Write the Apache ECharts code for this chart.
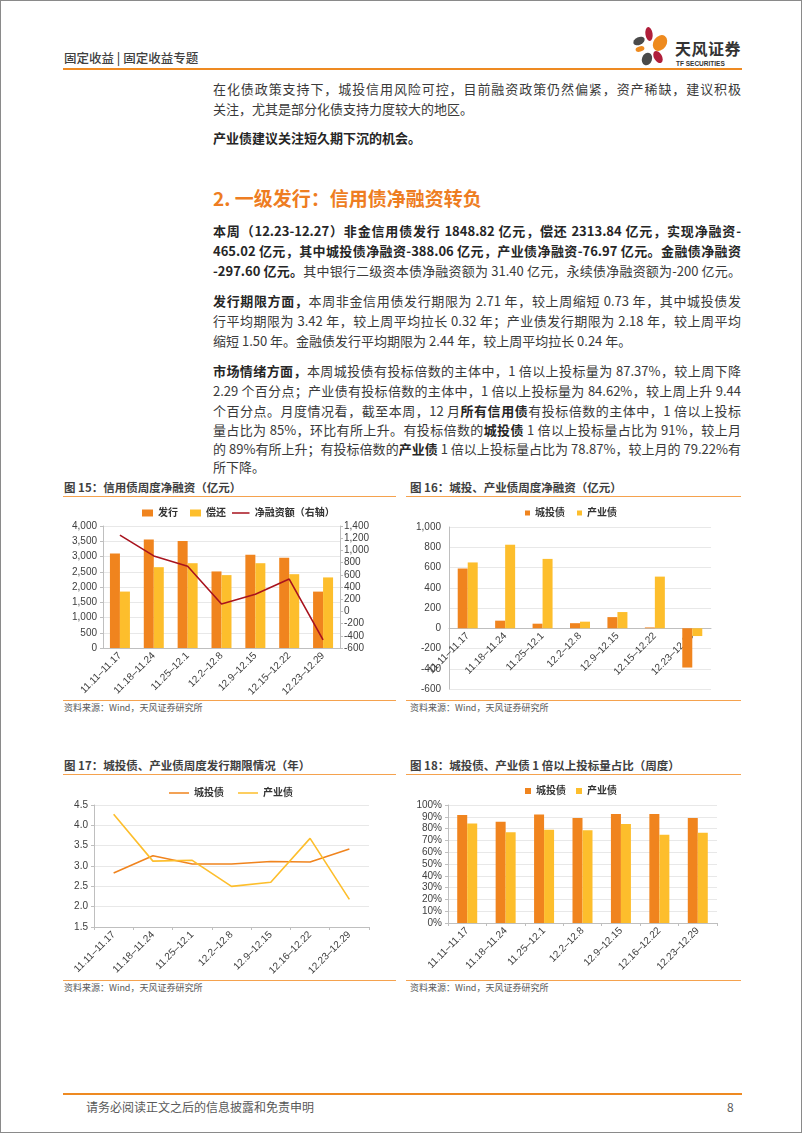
<!DOCTYPE html>
<html><head><meta charset="utf-8">
<script src="https://cdn.jsdelivr.net/npm/echarts@6/dist/echarts.min.js"></script>
<style>
html,body{margin:0;padding:0;background:#fff;}
#page{position:relative;width:802px;height:1133px;box-sizing:border-box;border:1px solid #8a8a8a;overflow:hidden;font-family:"Noto Sans CJK SC","Liberation Sans",sans-serif;color:#333;}
.abs{position:absolute;}
.ln{position:absolute;left:212px;width:528px;height:20px;line-height:20px;font-size:13px;white-space:nowrap;text-align:justify;text-align-last:justify;color:#3a3a3a;}
.ln.last{text-align-last:left;}
.ln b{font-weight:bold;color:#262626;}
.ttl{position:absolute;font-size:11.5px;font-weight:bold;color:#404040;line-height:16px;white-space:nowrap;}
.src{position:absolute;font-size:9px;color:#595959;line-height:12px;white-space:nowrap;}
.hr{position:absolute;height:0;border-top:1.5px solid #F5A24E;}
.chart{position:absolute;}
</style></head>
<body>
<div id="page">
  <!-- header -->
  <div class="abs" style="left:63px;top:49px;font-size:12.5px;color:#404040;line-height:16px;font-weight:500;">固定收益 | 固定收益专题</div>
  <div class="abs" style="left:62px;top:67px;width:679px;height:0;border-top:2px solid #EE8A22;"></div>
  <svg class="abs" style="left:628px;top:24px;" width="46" height="44" viewBox="0 0 46 44">
    <ellipse cx="20" cy="9" rx="3.6" ry="7" fill="#B01E3A" transform="rotate(-8 20 9)"/>
    <ellipse cx="31" cy="18" rx="6.5" ry="8.5" fill="#EE8A1E" transform="rotate(35 31 18)"/>
    <ellipse cx="10" cy="16" rx="6" ry="3.8" fill="#4a4a4a" transform="rotate(-25 10 16)"/>
    <ellipse cx="11" cy="24" rx="4.5" ry="2.6" fill="#EE8A1E" transform="rotate(-15 11 24)"/>
    <ellipse cx="29" cy="32" rx="4" ry="6.5" fill="#B01E3A" transform="rotate(-30 29 32)"/>
    <ellipse cx="18" cy="34" rx="5" ry="6.5" fill="#4a4a4a" transform="rotate(20 18 34)"/>
  </svg>
  <div class="abs" style="left:674px;top:37px;font-size:16px;font-weight:bold;color:#333;line-height:20px;letter-spacing:0.5px;">天风证券</div>
  <div class="abs" style="left:675px;top:59px;font-size:6.5px;font-weight:bold;color:#333;line-height:8px;font-family:'Liberation Sans',sans-serif;">TF SECURITIES</div>

  <!-- intro -->
  <div class="ln" style="top:78px;">在化债政策支持下，城投信用风险可控，目前融资政策仍然偏紧，资产稀缺，建议积极</div>
  <div class="ln last" style="top:98px;">关注，尤其是部分化债支持力度较大的地区。</div>
  <div class="ln last" style="top:127px;"><b>产业债建议关注短久期下沉的机会。</b></div>

  <div class="abs" style="left:212px;top:183px;font-size:19px;font-weight:bold;color:#EE7D22;line-height:28px;">2. 一级发行：信用债净融资转负</div>

  <div class="ln" style="top:220px;"><b>本周（12.23-12.27）非金信用债发行 1848.82 亿元，偿还 2313.84 亿元，实现净融资-</b></div>
  <div class="ln" style="top:240px;"><b>465.02 亿元，其中城投债净融资-388.06 亿元，产业债净融资-76.97 亿元。金融债净融资</b></div>
  <div class="ln" style="top:260px;"><b>-297.60 亿元。</b>其中银行二级资本债净融资额为 31.40 亿元，永续债净融资额为-200 亿元。</div>

  <div class="ln" style="top:290px;"><b>发行期限方面，</b>本周非金信用债发行期限为 2.71 年，较上周缩短 0.73 年，其中城投债发</div>
  <div class="ln" style="top:310px;">行平均期限为 3.42 年，较上周平均拉长 0.32 年；产业债发行期限为 2.18 年，较上周平均</div>
  <div class="ln last" style="top:330px;">缩短 1.50 年。金融债发行平均期限为 2.44 年，较上周平均拉长 0.24 年。</div>

  <div class="ln" style="top:360px;"><b>市场情绪方面，</b>本周城投债有投标倍数的主体中，1 倍以上投标量为 87.37%，较上周下降</div>
  <div class="ln" style="top:380px;">2.29 个百分点；产业债有投标倍数的主体中，1 倍以上投标量为 84.62%，较上周上升 9.44</div>
  <div class="ln" style="top:400px;">个百分点。月度情况看，截至本周，12 月<b>所有信用债</b>有投标倍数的主体中，1 倍以上投标</div>
  <div class="ln" style="top:419px;">量占比为 85%，环比有所上升。有投标倍数的<b>城投债</b> 1 倍以上投标量占比为 91%，较上月</div>
  <div class="ln" style="top:438px;">的 89%有所上升；有投标倍数的<b>产业债</b> 1 倍以上投标量占比为 78.87%，较上月的 79.22%有</div>
  <div class="ln last" style="top:456px;">所下降。</div>

  <!-- chart titles / lines / sources -->
  <div class="ttl" style="left:63px;top:478px;">图 15：信用债周度净融资（亿元）</div>
  <div class="hr" style="left:62px;top:495px;width:333px;"></div>
  <div class="hr" style="left:62px;top:699px;width:333px;"></div>
  <div class="src" style="left:63px;top:701px;">资料来源：Wind，天风证券研究所</div>

  <div class="ttl" style="left:409px;top:478px;">图 16：城投、产业债周度净融资（亿元）</div>
  <div class="hr" style="left:405px;top:495px;width:335px;"></div>
  <div class="hr" style="left:405px;top:699px;width:335px;"></div>
  <div class="src" style="left:409px;top:701px;">资料来源：Wind，天风证券研究所</div>

  <div class="ttl" style="left:63px;top:756px;">图 17：城投债、产业债周度发行期限情况（年）</div>
  <div class="hr" style="left:62px;top:773px;width:333px;"></div>
  <div class="hr" style="left:62px;top:979px;width:333px;"></div>
  <div class="src" style="left:63px;top:981px;">资料来源：Wind，天风证券研究所</div>

  <div class="ttl" style="left:409px;top:756px;">图 18：城投债、产业债 1 倍以上投标量占比（周度）</div>
  <div class="hr" style="left:405px;top:773px;width:335px;"></div>
  <div class="hr" style="left:405px;top:979px;width:335px;"></div>
  <div class="src" style="left:409px;top:981px;">资料来源：Wind，天风证券研究所</div>

  <div id="c15" class="chart" style="left:60px;top:497px;width:340px;height:201px;"></div>
  <div id="c16" class="chart" style="left:400px;top:497px;width:340px;height:201px;"></div>
  <div id="c17" class="chart" style="left:60px;top:775px;width:340px;height:203px;"></div>
  <div id="c18" class="chart" style="left:400px;top:775px;width:340px;height:203px;"></div>

  <!-- footer -->
  <div class="abs" style="left:62px;top:1092px;width:679px;height:0;border-top:2px solid #EE8A22;"></div>
  <div class="abs" style="left:85px;top:1098px;font-size:12px;color:#595959;line-height:16px;">请务必阅读正文之后的信息披露和免责申明</div>
  <div class="abs" style="left:726px;top:1098px;font-size:12px;color:#595959;line-height:16px;">8</div>
</div>
<script>
// ---- data ----
const weeksA = ['11.11–11.17','11.18–11.24','11.25–12.1','12.2–12.8','12.9–12.15','12.15–12.22','12.23–12.29'];
const weeksB = ['11.11–11.17','11.18–11.24','11.25–12.1','12.2–12.8','12.9–12.15','12.16–12.22','12.23–12.29'];
const issue = [3100, 3560, 3510, 2510, 3060, 2960, 1849];
const repay = [1850, 2650, 2780, 2390, 2780, 2420, 2314];
const netFin = [1250, 910, 740, 120, 280, 530, -465];
const ctNet = [590, 75, 45, 50, 110, 8, -388];
const cyNet = [650, 825, 685, 65, 160, 510, -77];
const ctTerm = [2.83, 3.25, 3.05, 3.05, 3.11, 3.10, 3.42];
const cyTerm = [4.27, 3.12, 3.14, 2.50, 2.60, 3.68, 2.18];
const ctBid = [91.5, 85.7, 92.0, 89.0, 92.3, 92.3, 89.0];
const cyBid = [84.3, 77.0, 79.0, 78.7, 84.0, 74.8, 76.5];

const ORANGE = '#F0841E', YELLOW = '#FDBE2C', DRED = '#A8131E';
const FONT = '"Liberation Sans","Noto Sans CJK SC",sans-serif';
const LBL = {fontSize:10, color:'#404040', fontFamily:FONT};
const AXL = {show:true, lineStyle:{color:'#bfbfbf', width:1}};
const GRIDL = {show:true, lineStyle:{color:'#e8e8e8', width:1}};
const thou = v => v.toLocaleString('en-US');
const legendText = {fontSize:10, color:'#333', fontFamily:FONT, fontWeight:'bold'};
// line legend icon: 20x8 box with a 1.6px line in the middle (tiny corner dots fix the box)
const LINE_ICON = 'path://M0,3.2 L20,3.2 L20,4.8 L0,4.8 Z M0,0 L0.01,0 L0.01,0.01 Z M20,8 L19.99,8 L19.99,7.99 Z';

function cat(data){
  return {type:'category', data:data, axisLine:AXL, axisTick:{show:false},
    axisLabel:Object.assign({rotate:45, interval:0, margin:6}, LBL)};
}

// chart 15
echarts.init(document.getElementById('c15')).setOption({
  animation:false,
  legend:[
    {left:76, top:5, itemGap:12, textStyle:legendText, itemWidth:11, itemHeight:7, icon:'rect',
     data:['发行','偿还']},
    {left:166, top:5, textStyle:legendText, itemWidth:18, itemHeight:7, icon:LINE_ICON,
     data:['净融资额（右轴）']}
  ],
  grid:{left:42, right:61, top:28, bottom:51, outerBoundsMode:'none'},
  xAxis:cat(weeksA),
  yAxis:[
    {type:'value', min:0, max:4000, interval:500, axisLine:AXL, axisTick:{show:true,length:3,lineStyle:{color:'#bfbfbf'}},
     splitLine:GRIDL, axisLabel:Object.assign({formatter:thou, margin:6}, LBL)},
    {type:'value', min:-600, max:1400, interval:200, position:'right', axisLine:AXL,
     axisTick:{show:true,length:3,lineStyle:{color:'#bfbfbf'}}, splitLine:{show:false},
     axisLabel:Object.assign({formatter:thou, margin:4}, LBL)}
  ],
  series:[
    {name:'发行', type:'bar', data:issue, barWidth:10, barGap:'0%', itemStyle:{color:ORANGE}},
    {name:'偿还', type:'bar', data:repay, barWidth:10, barGap:'0%', itemStyle:{color:YELLOW}},
    {name:'净融资额（右轴）', type:'line', yAxisIndex:1, data:netFin, symbol:'none',
     lineStyle:{color:DRED, width:1.6}, itemStyle:{color:DRED}}
  ]
});

// chart 16 : x axis sits at value 0 (labels follow it)
const c16Min = -600, c16Max = 1000, c16Top = 29, c16Bottom = 10, c16H = 201;
const c16PlotH = c16H - c16Top - c16Bottom;
const c16ZeroOffset = c16PlotH * (0 - c16Min) / (c16Max - c16Min);
echarts.init(document.getElementById('c16')).setOption({
  animation:false,
  legend:{top:5, left:'center', itemGap:12, icon:'rect', itemWidth:5, itemHeight:5, textStyle:legendText,
    data:['城投债','产业债']},
  grid:{left:48, right:30, top:c16Top, bottom:c16Bottom, outerBoundsMode:'none'},
  xAxis:Object.assign(cat(weeksA), {offset:-c16ZeroOffset,
    axisLine:{show:true, onZero:false, lineStyle:{color:'#bfbfbf', width:1}}}),
  yAxis:{type:'value', min:c16Min, max:c16Max, interval:200, axisLine:AXL, axisTick:{show:false},
    splitLine:GRIDL, axisLabel:Object.assign({formatter:thou, margin:8}, LBL)},
  series:[
    {name:'城投债', type:'bar', data:ctNet, barWidth:10, barGap:'0%', itemStyle:{color:ORANGE}},
    {name:'产业债', type:'bar', data:cyNet, barWidth:10, barGap:'0%', itemStyle:{color:YELLOW}}
  ]
});

// chart 17
echarts.init(document.getElementById('c17')).setOption({
  animation:false,
  legend:{top:7, left:'center', itemGap:14, itemWidth:20, itemHeight:8, icon:LINE_ICON, textStyle:legendText,
    data:['城投债','产业债']},
  grid:{left:33, right:32, top:29, bottom:52, outerBoundsMode:'none'},
  xAxis:Object.assign(cat(weeksB), {axisTick:{show:true, length:3, interval:0, lineStyle:{color:'#bfbfbf'}}}),
  yAxis:{type:'value', min:1.5, max:4.5, interval:0.5, axisLine:AXL,
    axisTick:{show:true,length:3,lineStyle:{color:'#bfbfbf'}},
    splitLine:GRIDL, axisLabel:Object.assign({formatter:v=>v.toFixed(1), margin:6}, LBL)},
  series:[
    {name:'城投债', type:'line', data:ctTerm, symbol:'none', lineStyle:{color:ORANGE,width:1.6}, itemStyle:{color:ORANGE}},
    {name:'产业债', type:'line', data:cyTerm, symbol:'none', lineStyle:{color:YELLOW,width:1.6}, itemStyle:{color:YELLOW}}
  ]
});

// chart 18
echarts.init(document.getElementById('c18')).setOption({
  animation:false,
  legend:{top:5, left:'center', itemGap:10, icon:'rect', itemWidth:6, itemHeight:6, textStyle:legendText,
    data:['城投债','产业债']},
  grid:{left:47, right:24, top:29, bottom:56, outerBoundsMode:'none'},
  xAxis:Object.assign(cat(weeksB), {axisTick:{show:true, length:3, interval:0, lineStyle:{color:'#bfbfbf'}}}),
  yAxis:{type:'value', min:0, max:100, interval:10, axisLine:AXL,
    axisTick:{show:true,length:3,lineStyle:{color:'#bfbfbf'}},
    splitLine:GRIDL, axisLabel:Object.assign({formatter:v=>v+'%', margin:6}, LBL)},
  series:[
    {name:'城投债', type:'bar', data:ctBid, barWidth:10, barGap:'0%', itemStyle:{color:ORANGE}},
    {name:'产业债', type:'bar', data:cyBid, barWidth:10, barGap:'0%', itemStyle:{color:YELLOW}}
  ]
});
</script>
</body></html>
